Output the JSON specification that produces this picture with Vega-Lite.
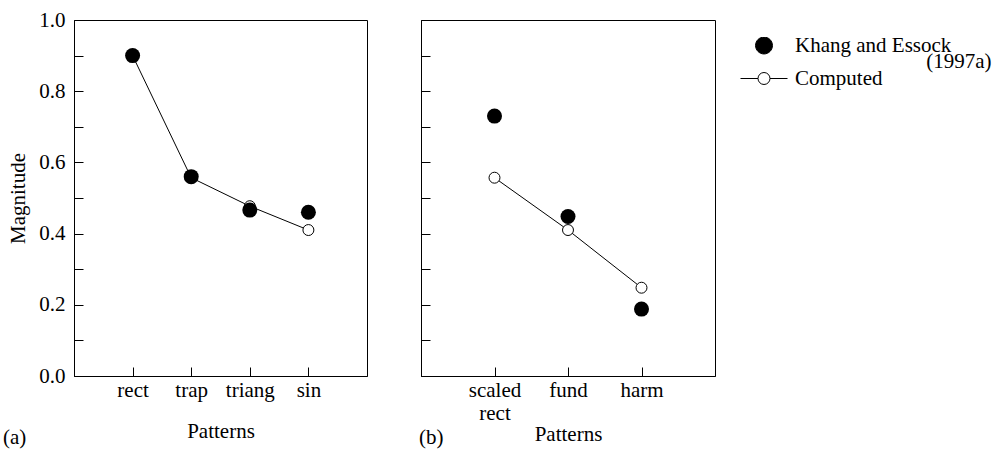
{
  "$schema": "https://vega.github.io/schema/vega-lite/v6.json",
  "background": "white",
  "padding": {"left": 2, "top": 8, "right": 5, "bottom": 2},
  "config": {
    "font": "Liberation Serif",
    "view": {"stroke": "black", "strokeWidth": 1},
    "axis": {
      "labelFont": "Liberation Serif", "labelFontSize": 21, "labelColor": "black",
      "titleFont": "Liberation Serif", "titleFontSize": 21, "titleFontWeight": "normal", "titleColor": "black",
      "domainColor": "black", "tickColor": "black", "grid": false, "tickSize": -9
    },
    "title": {"font": "Liberation Serif", "fontSize": 21, "fontWeight": "normal", "color": "black"},
    "legend": {"labelFont": "Liberation Serif", "labelFontSize": 21, "labelColor": "black", "rowPadding": -5.5, "gridAlign": "none"}
  },
  "datasets": {
    "d": [
      {"panel": "a", "pattern": "rect", "series": "Khang and Essock", "value": 0.90},
      {"panel": "a", "pattern": "trap", "series": "Khang and Essock", "value": 0.56},
      {"panel": "a", "pattern": "triang", "series": "Khang and Essock", "value": 0.466},
      {"panel": "a", "pattern": "sin", "series": "Khang and Essock", "value": 0.46},
      {"panel": "a", "pattern": "rect", "series": "Computed", "value": 0.90},
      {"panel": "a", "pattern": "trap", "series": "Computed", "value": 0.557},
      {"panel": "a", "pattern": "triang", "series": "Computed", "value": 0.477},
      {"panel": "a", "pattern": "sin", "series": "Computed", "value": 0.41},
      {"panel": "b", "pattern": "scaled rect", "series": "Khang and Essock", "value": 0.73},
      {"panel": "b", "pattern": "fund", "series": "Khang and Essock", "value": 0.448},
      {"panel": "b", "pattern": "harm", "series": "Khang and Essock", "value": 0.188},
      {"panel": "b", "pattern": "scaled rect", "series": "Computed", "value": 0.557},
      {"panel": "b", "pattern": "fund", "series": "Computed", "value": 0.41},
      {"panel": "b", "pattern": "harm", "series": "Computed", "value": 0.248}
    ]
  },
  "spacing": 50,
  "resolve": {"scale": {"x": "independent"}},
  "hconcat": [
    {
      "width": 293, "height": 356,
      "title": {"text": "(a)", "orient": "bottom", "anchor": "start", "frame": "group", "dx": -71, "dy": -18},
      "data": {"name": "d"},
      "transform": [{"filter": "datum.panel == 'a'"}],
      "encoding": {
        "x": {"field": "pattern", "type": "nominal", "sort": null,
              "scale": {"type": "point", "padding": 1},
              "axis": {"title": "Patterns", "labelAngle": 0, "labelPadding": 12, "titlePadding": 20}},
        "y": {"field": "value", "type": "quantitative", "scale": {"domain": [0, 1], "nice": false},
              "axis": {"title": "Magnitude", "values": [0, 0.1, 0.2, 0.3, 0.4, 0.5, 0.6, 0.7, 0.8, 0.9, 1.0],
                       "labelExpr": "round(datum.value*10) % 2 == 0 ? format(datum.value, '.1f') : ''",
                       "labelPadding": 18, "titlePadding": 10}}
      },
      "layer": [
        {"transform": [{"filter": "datum.series == 'Computed'"}],
         "mark": {"type": "line", "color": "black", "strokeWidth": 1}},
        {"transform": [{"filter": "datum.series == 'Computed'"}],
         "mark": {"type": "point", "shape": "circle", "filled": true, "fill": "white", "stroke": "black", "strokeWidth": 1, "size": 120, "opacity": 1}},
        {"transform": [{"filter": "datum.series == 'Khang and Essock'"}],
         "mark": {"type": "point", "shape": "circle", "filled": true, "color": "black", "size": 225, "opacity": 1}}
      ]
    },
    {
      "width": 294, "height": 356,
      "title": {"text": "(b)", "orient": "bottom", "anchor": "start", "frame": "group", "dx": -2, "dy": -21},
      "data": {"name": "d"},
      "transform": [{"filter": "datum.panel == 'b'"}],
      "encoding": {
        "x": {"field": "pattern", "type": "nominal", "sort": null,
              "scale": {"type": "point", "padding": 1},
              "axis": {"title": "Patterns", "labelAngle": 0, "labelPadding": 12, "titlePadding": 0,
                       "labelExpr": "datum.label == 'scaled rect' ? ['scaled', 'rect'] : datum.label"}},
        "y": {"field": "value", "type": "quantitative", "scale": {"domain": [0, 1], "nice": false},
              "axis": {"title": null, "labels": false, "values": [0, 0.1, 0.2, 0.3, 0.4, 0.5, 0.6, 0.7, 0.8, 0.9, 1.0]}}
      },
      "layer": [
        {"transform": [{"filter": "datum.series == 'Computed'"}],
         "mark": {"type": "line", "color": "black", "strokeWidth": 1}},
        {"transform": [{"filter": "datum.series == 'Computed'"}],
         "mark": {"type": "point", "shape": "circle", "filled": true, "fill": "white", "stroke": "black", "strokeWidth": 1, "size": 120, "opacity": 1}},
        {"transform": [{"filter": "datum.series == 'Khang and Essock'"}],
         "mark": {"type": "point", "shape": "circle", "filled": true, "color": "black", "size": 225, "opacity": 1}},
        {"mark": {"type": "point", "filled": true, "opacity": 0, "stroke": "black", "strokeWidth": 1, "size": 2209},
         "encoding": {
           "shape": {"field": "series", "type": "nominal",
                     "scale": {"domain": ["Khang and Essock", "(1997a)", "Computed"],
                               "range": ["M-0.36,0A0.36,0.36,0,1,0,0.36,0A0.36,0.36,0,1,0,-0.36,0Z", "M0,0", "M-1,0L-0.255,0M0.255,0L1,0M-0.255,0A0.255,0.255,0,1,0,0.255,0A0.255,0.255,0,1,0,-0.255,0Z"]},
                     "legend": {"title": null, "orient": "right", "offset": 7, "padding": 17, "rowPadding": -5.5, "clipHeight": 17, "labelLimit": 400,
                                "symbolSize": 2209, "symbolFillColor": "black", "symbolStrokeColor": "black", "symbolStrokeWidth": 1, "symbolOpacity": 1, "labelOffset": 7,
                                "labelExpr": "datum.label == '(1997a)' ? '\u200b\u00a0\u00a0\u00a0\u00a0\u00a0\u00a0\u00a0\u00a0\u00a0\u00a0\u00a0\u00a0\u00a0\u00a0\u00a0\u00a0\u00a0\u00a0\u00a0\u00a0\u00a0\u00a0\u00a0\u00a0\u00a0(1997a)' : datum.label"}},
           "fill": {"field": "series", "type": "nominal",
                    "scale": {"domain": ["Khang and Essock", "(1997a)", "Computed"], "range": ["black", "white", "white"]},
                    "legend": {"title": null, "orient": "right", "offset": 7, "padding": 17, "rowPadding": -5.5, "clipHeight": 17, "labelLimit": 400,
                                "symbolSize": 2209, "symbolFillColor": "black", "symbolStrokeColor": "black", "symbolStrokeWidth": 1, "symbolOpacity": 1, "labelOffset": 7,
                                "labelExpr": "datum.label == '(1997a)' ? '\u200b\u00a0\u00a0\u00a0\u00a0\u00a0\u00a0\u00a0\u00a0\u00a0\u00a0\u00a0\u00a0\u00a0\u00a0\u00a0\u00a0\u00a0\u00a0\u00a0\u00a0\u00a0\u00a0\u00a0\u00a0\u00a0(1997a)' : datum.label"}}
         }}
      ]
    }
  ]
}
